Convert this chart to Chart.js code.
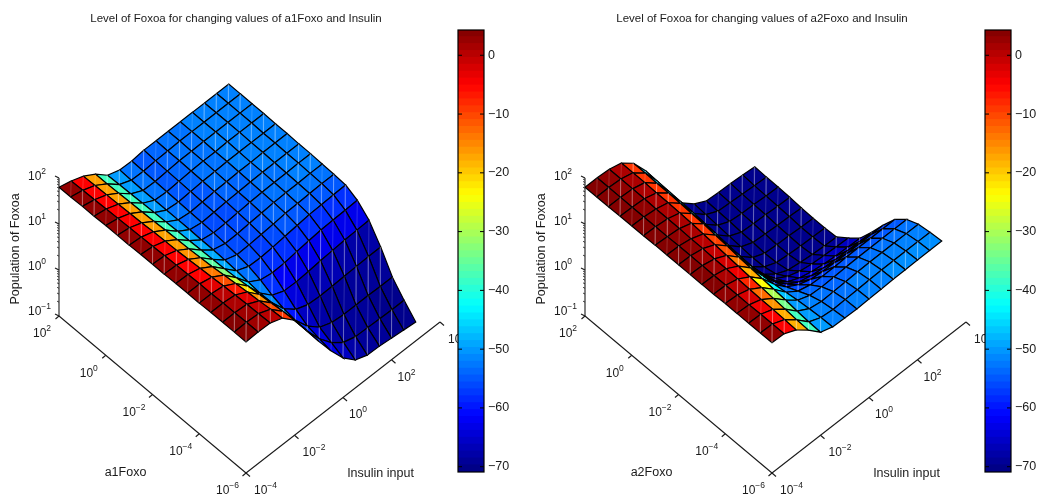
<!DOCTYPE html>
<html>
<head>
<meta charset="utf-8">
<title>Level of Foxoa</title>
<script src="https://cdn.jsdelivr.net/npm/chart.js@4/dist/chart.umd.min.js"></script>
<style>
    body { margin: 0; background: #fff; overflow: hidden; }
    canvas { position: absolute; top: 0; }
</style>
</head>
<body>
<canvas id="surface1" width="472" height="500" style="left:0"></canvas>
<canvas id="surface2" width="472" height="500" style="left:526px"></canvas>
<canvas id="bar1" width="70" height="500" style="left:452px"></canvas>
<canvas id="bar2" width="60" height="500" style="left:979px"></canvas>
<script>
// log10 of the grid values, rows go from the far edge to the near edge
const foxoExp = [2, 1.5, 1, 0.5, 0, -0.5, -1, -1.5, -2, -2.5, -3, -3.5, -4, -4.5, -5, -5.5, -6];
const insulinExp = [-4, -3.5, -3, -2.5, -2, -1.5, -1, -0.5, 0, 0.5, 1, 1.5, 2, 2.5, 3];

const foxoTicks = [-6, -4, -2, 0, 2];
const insulinTicks = [-4, -2, 0, 2, 4];
const heightTicks = [-1, 0, 1, 2];
const minorSteps = [0.301, 0.477, 0.602, 0.699, 0.778, 0.845, 0.903, 0.954];
const colorbarTicks = [-70, -60, -50, -40, -30, -20, -10, 0];
const colorRange = [-70.9, 4.3];

const a1Heights = [
    [1.80, 1.73, 1.63, 1.47, 1.24, 1.15, 1.14, 1.17, 1.17, 1.17, 1.17, 1.17, 1.17, 1.17, 1.17],
    [1.80, 1.74, 1.64, 1.47, 1.25, 1.14, 1.13, 1.15, 1.16, 1.17, 1.17, 1.17, 1.17, 1.17, 1.17],
    [1.81, 1.75, 1.65, 1.48, 1.26, 1.13, 1.12, 1.14, 1.16, 1.16, 1.17, 1.17, 1.17, 1.17, 1.17],
    [1.81, 1.76, 1.66, 1.49, 1.27, 1.13, 1.11, 1.13, 1.15, 1.16, 1.16, 1.17, 1.17, 1.17, 1.17],
    [1.82, 1.77, 1.67, 1.50, 1.28, 1.13, 1.10, 1.12, 1.14, 1.15, 1.16, 1.16, 1.16, 1.16, 1.16],
    [1.82, 1.78, 1.68, 1.51, 1.29, 1.13, 1.09, 1.11, 1.13, 1.14, 1.15, 1.15, 1.16, 1.16, 1.16],
    [1.82, 1.79, 1.70, 1.53, 1.30, 1.13, 1.08, 1.10, 1.12, 1.13, 1.14, 1.15, 1.15, 1.15, 1.15],
    [1.83, 1.80, 1.71, 1.54, 1.31, 1.12, 1.07, 1.08, 1.10, 1.12, 1.13, 1.14, 1.14, 1.15, 1.15],
    [1.83, 1.81, 1.72, 1.55, 1.32, 1.12, 1.05, 1.06, 1.08, 1.10, 1.12, 1.13, 1.13, 1.14, 1.14],
    [1.83, 1.82, 1.74, 1.57, 1.33, 1.11, 1.02, 1.03, 1.05, 1.07, 1.10, 1.11, 1.12, 1.13, 1.13],
    [1.84, 1.83, 1.76, 1.59, 1.34, 1.09, 0.98, 0.97, 0.99, 1.02, 1.05, 1.08, 1.09, 1.10, 1.11],
    [1.84, 1.84, 1.78, 1.62, 1.36, 1.06, 0.90, 0.85, 0.86, 0.90, 0.93, 0.96, 0.97, 0.98, 0.99],
    [1.84, 1.84, 1.80, 1.65, 1.39, 1.03, 0.78, 0.67, 0.66, 0.68, 0.71, 0.73, 0.75, 0.76, 0.77],
    [1.85, 1.85, 1.82, 1.68, 1.42, 1.04, 0.70, 0.48, 0.38, 0.36, 0.37, 0.38, 0.39, 0.40, 0.40],
    [1.85, 1.85, 1.83, 1.70, 1.45, 1.05, 0.66, 0.33, 0.10, 0.00, -0.03, -0.03, -0.03, -0.04, -0.04],
    [1.85, 1.86, 1.84, 1.73, 1.48, 1.07, 0.64, 0.27, -0.02, -0.22, -0.30, -0.31, -0.32, -0.33, -0.33],
    [1.85, 1.86, 1.85, 1.75, 1.50, 1.08, 0.63, 0.22, -0.14, -0.39, -0.49, -0.50, -0.53, -0.56, -0.59]
];

// one level per grid cell
const a1Levels = [
    [3, -5, -17, -38, -50, -53, -55, -54, -53, -53, -52, -52, -52, -52],
    [3, -5, -17, -38, -50, -53, -55, -54, -53, -53, -52, -52, -52, -52],
    [3, -5, -17, -38, -50, -53, -55, -54, -53, -53, -52, -52, -52, -52],
    [3, -5, -17, -38, -50, -53, -55, -54, -53, -53, -52, -52, -52, -52],
    [3, -5, -17, -38, -50, -53, -55, -55, -53, -53, -52, -52, -52, -52],
    [3, -5, -17, -38, -50, -54, -55, -55, -54, -54, -53, -52, -52, -52],
    [3, -5, -17, -38, -49, -55, -56, -56, -55, -54, -53, -53, -52, -52],
    [3, -5, -17, -37, -49, -55, -56, -56, -55, -54, -53, -53, -52, -52],
    [3, -5, -16, -37, -49, -55, -56, -56, -55, -54, -54, -53, -53, -53],
    [3, -5, -16, -36, -49, -54, -56, -57, -56, -55, -55, -55, -55, -55],
    [3, -5, -14, -33, -48, -53, -57, -58, -58, -58, -58, -58, -58, -58],
    [3, -3, -11, -28, -45, -52, -58, -62, -63, -63, -63, -63, -63, -63],
    [3, 0, -7, -22, -43, -51, -59, -64, -67, -67, -67, -68, -68, -68],
    [3, 1, -3, -16, -38, -50, -60, -66, -68, -69, -69, -69, -69, -69],
    [4, 2, -1, -11, -30, -48, -58, -64, -68, -69, -69, -69, -70, -70],
    [4, 2, 0, -9, -25, -48, -58, -63, -66, -68, -69, -69, -70, -70]
];

const a2Heights = [
    [1.80, 1.80, 1.78, 1.71, 1.50, 1.13, 0.66, 0.19, -0.18, -0.41, -0.55, -0.57, -0.58, -0.60, -0.63],
    [1.80, 1.80, 1.78, 1.71, 1.50, 1.12, 0.64, 0.17, -0.20, -0.43, -0.56, -0.58, -0.60, -0.62, -0.64],
    [1.80, 1.80, 1.78, 1.71, 1.49, 1.11, 0.62, 0.15, -0.22, -0.45, -0.57, -0.60, -0.61, -0.63, -0.64],
    [1.81, 1.80, 1.78, 1.70, 1.49, 1.10, 0.60, 0.13, -0.24, -0.47, -0.59, -0.61, -0.62, -0.64, -0.65],
    [1.81, 1.80, 1.77, 1.70, 1.48, 1.09, 0.58, 0.11, -0.26, -0.49, -0.60, -0.62, -0.64, -0.65, -0.67],
    [1.81, 1.80, 1.77, 1.69, 1.47, 1.07, 0.56, 0.09, -0.28, -0.51, -0.62, -0.64, -0.65, -0.67, -0.68],
    [1.82, 1.80, 1.77, 1.68, 1.46, 1.05, 0.55, 0.08, -0.29, -0.50, -0.61, -0.64, -0.66, -0.67, -0.68],
    [1.82, 1.81, 1.76, 1.66, 1.43, 1.02, 0.54, 0.09, -0.24, -0.44, -0.56, -0.60, -0.63, -0.65, -0.66],
    [1.82, 1.81, 1.76, 1.64, 1.41, 1.00, 0.56, 0.17, -0.12, -0.28, -0.37, -0.42, -0.44, -0.46, -0.47],
    [1.82, 1.81, 1.75, 1.62, 1.38, 0.98, 0.58, 0.25, 0.02, -0.10, -0.17, -0.21, -0.24, -0.25, -0.26],
    [1.82, 1.81, 1.75, 1.60, 1.36, 0.98, 0.64, 0.39, 0.23, 0.16, 0.12, 0.10, 0.09, 0.08, 0.08],
    [1.82, 1.81, 1.74, 1.58, 1.34, 1.01, 0.75, 0.59, 0.50, 0.47, 0.46, 0.45, 0.45, 0.45, 0.45],
    [1.83, 1.81, 1.73, 1.56, 1.32, 1.05, 0.87, 0.80, 0.78, 0.78, 0.79, 0.79, 0.79, 0.79, 0.79],
    [1.83, 1.81, 1.72, 1.54, 1.30, 1.09, 0.99, 0.97, 0.98, 0.99, 1.00, 1.00, 1.00, 1.00, 1.00],
    [1.83, 1.82, 1.72, 1.52, 1.27, 1.12, 1.07, 1.08, 1.09, 1.10, 1.11, 1.11, 1.11, 1.11, 1.11],
    [1.83, 1.82, 1.71, 1.50, 1.25, 1.14, 1.11, 1.12, 1.13, 1.14, 1.15, 1.15, 1.15, 1.15, 1.15],
    [1.83, 1.82, 1.70, 1.49, 1.24, 1.15, 1.14, 1.13, 1.14, 1.15, 1.16, 1.16, 1.17, 1.17, 1.17]
];

const a2Levels = [
    [4, 3, 1, -9, -45, -66, -70, -70, -70, -70, -70, -70, -70, -70],
    [4, 3, 1, -9, -45, -66, -70, -70, -70, -70, -70, -70, -70, -70],
    [4, 3, 1, -9, -45, -66, -70, -70, -70, -70, -70, -70, -70, -70],
    [4, 3, 1, -9, -45, -66, -70, -70, -70, -70, -70, -70, -70, -70],
    [4, 3, 1, -9, -45, -66, -70, -70, -70, -70, -70, -70, -70, -70],
    [4, 3, 1, -9, -45, -66, -70, -70, -70, -70, -70, -70, -70, -70],
    [4, 3, 1, -9, -45, -66, -70, -70, -70, -70, -70, -70, -70, -70],
    [4, 3, 0, -10, -42, -66, -69, -69, -69, -69, -69, -69, -69, -69],
    [4, 2, -1, -11, -40, -64, -67, -67, -67, -66, -66, -66, -66, -66],
    [4, 2, -2, -14, -40, -60, -64, -64, -64, -63, -63, -63, -63, -63],
    [4, 1, -4, -18, -42, -57, -60, -61, -61, -60, -60, -60, -60, -60],
    [3, 0, -8, -24, -43, -53, -56, -57, -57, -57, -57, -57, -57, -57],
    [3, -2, -13, -30, -47, -52, -54, -55, -55, -55, -55, -55, -55, -55],
    [3, -4, -16, -34, -50, -52, -53, -54, -54, -53, -53, -53, -53, -53],
    [3, -5, -18, -38, -50, -52, -53, -53, -52, -52, -52, -52, -52, -52],
    [3, -5, -18, -38, -50, -52, -53, -52, -52, -52, -51, -51, -51, -51]
];

const FONT = '"Liberation Sans", Arial, sans-serif';
const INK = '#1a1a1a';

// fixed view of the 3D box, in picture units
function project(foxo, insulin, height) {
    const f = (foxo + 6) / 8;
    const s = (insulin + 4) / 8;
    return {
        x: 246 - 187 * f + 194 * s,
        y: 473 - 157 * f - 151 * s - 46 * (height + 1)
    };
}

function jetColor(level) {
    const t = (level - colorRange[0]) / (colorRange[1] - colorRange[0]);
    const band = c => Math.round(255 * Math.max(0, Math.min(1, c)));
    const r = band(Math.min(4 * t - 1.5, 4.5 - 4 * t));
    const g = band(Math.min(4 * t - 0.5, 3.5 - 4 * t));
    const b = band(Math.min(4 * t + 0.5, 2.5 - 4 * t));
    return `rgb(${r},${g},${b})`;
}

function lineSet(points, width) {
    return {
        data: points,
        showLine: true,
        fill: false,
        borderColor: INK,
        borderWidth: width || 1.1,
        pointRadius: 0
    };
}

function buildSurface(heights, levels) {
    const cells = [];
    levels.forEach((row, k) => {
        row.forEach((level, n) => cells.push({ k, n, level }));
    });
    // nearest cells first, chart.js paints the first dataset last
    cells.sort((p, q) => (p.n - p.k) - (q.n - q.k));

    const corner = (k, n) => project(foxoExp[k], insulinExp[n], heights[k][n]);
    const sets = [];
    cells.forEach(({ k, n, level }) => {
        const left = corner(k, n);
        const top = corner(k, n + 1);
        const right = corner(k + 1, n + 1);
        const bottom = corner(k + 1, n);
        sets.push({
            data: [top, bottom],
            showLine: true,
            fill: false,
            borderColor: 'rgba(255,255,255,0.17)',
            borderWidth: 1,
            pointRadius: 0
        });
        sets.push({
            data: [left, top, right, bottom, left],
            showLine: true,
            fill: 'shape',
            backgroundColor: jetColor(level),
            borderColor: '#000',
            borderWidth: 1.2,
            pointRadius: 0
        });
    });
    return sets;
}

function buildAxes() {
    const sets = [];
    sets.push(lineSet([project(2, -4, -1), project(2, -4, 2)]));
    sets.push(lineSet([project(2, -4, -1), project(-6, -4, -1)]));
    sets.push(lineSet([project(-6, -4, -1), project(-6, 4, -1)]));

    foxoTicks.forEach(v => {
        const p = project(v, -4, -1);
        sets.push(lineSet([p, { x: p.x - 3.5, y: p.y + 3 }]));
    });
    insulinTicks.forEach(v => {
        const p = project(-6, v, -1);
        sets.push(lineSet([p, { x: p.x + 4, y: p.y + 3.5 }]));
    });
    heightTicks.forEach(v => {
        const p = project(2, -4, v);
        sets.push(lineSet([p, { x: p.x - 4, y: p.y - 2 }]));
        if (v < 2) {
            minorSteps.forEach(m => {
                const q = project(2, -4, v + m);
                sets.push(lineSet([q, { x: q.x - 2, y: q.y - 1 }], 0.8));
            });
        }
    });
    return sets;
}

function drawPower(ctx, exponent, x, y) {
    ctx.textAlign = 'left';
    ctx.textBaseline = 'middle';
    ctx.font = `12px ${FONT}`;
    ctx.fillText('10', x, y);
    const w = ctx.measureText('10').width;
    ctx.font = `8.5px ${FONT}`;
    ctx.fillText(String(exponent).replace('-', '\u2212'), x + w, y - 5);
}

function axisTextPlugin(foxoLabel) {
    return {
        id: 'axisText',
        afterDatasetsDraw(chart) {
            const { ctx, scales } = chart;
            const px = p => ({ x: scales.x.getPixelForValue(p.x), y: scales.y.getPixelForValue(p.y) });
            ctx.save();
            ctx.fillStyle = INK;

            heightTicks.forEach(v => drawPower(ctx, v, 28, 177 + 45 * (2 - v)));
            foxoTicks.forEach(v => {
                const p = px(project(v, -4, -1));
                drawPower(ctx, v, p.x - (v < 0 ? 30 : 26), p.y + 18);
            });
            insulinTicks.forEach(v => {
                const p = px(project(-6, v, -1));
                drawPower(ctx, v, p.x + (v === 0 || v === 2 ? 6 : 8), p.y + 17.5);
            });

            ctx.font = `12.5px ${FONT}`;
            ctx.textAlign = 'center';
            ctx.textBaseline = 'middle';
            ctx.fillText(foxoLabel, 125.5, 473);
            ctx.fillText('Insulin input', 380.5, 474);

            ctx.translate(15.5, 249);
            ctx.rotate(-Math.PI / 2);
            ctx.fillText('Population of Foxoa', 0, 0);
            ctx.restore();
        }
    };
}

function drawSurface(canvasId, heights, levels, title, foxoLabel) {
    new Chart(document.getElementById(canvasId), {
        type: 'scatter',
        data: { datasets: buildSurface(heights, levels).concat(buildAxes()) },
        options: {
            responsive: false,
            animation: false,
            events: [],
            layout: { padding: 0 },
            elements: { line: { tension: 0 } },
            plugins: {
                legend: { display: false },
                tooltip: { enabled: false },
                title: {
                    display: true,
                    text: title,
                    color: INK,
                    font: { family: FONT, size: 11.5, weight: 'normal', lineHeight: '14px' },
                    padding: { top: 12, bottom: 4 }
                }
            },
            scales: {
                x: { type: 'linear', display: false, min: 0, max: 472 },
                y: { type: 'linear', display: false, min: 30, max: 500, reverse: true }
            }
        },
        plugins: [axisTextPlugin(foxoLabel)]
    });
}

const colorbarFrame = {
    id: 'colorbarFrame',
    afterDatasetsDraw(chart) {
        const { ctx, chartArea: a, scales } = chart;
        ctx.save();
        ctx.strokeStyle = '#000';
        ctx.lineWidth = 1.2;
        ctx.strokeRect(a.left, a.top, a.right - a.left, a.bottom - a.top);
        ctx.lineWidth = 1;
        colorbarTicks.forEach(v => {
            const y = scales.y.getPixelForValue(v);
            ctx.beginPath();
            ctx.moveTo(a.left, y);
            ctx.lineTo(a.left + 4, y);
            ctx.moveTo(a.right, y);
            ctx.lineTo(a.right - 4, y);
            ctx.stroke();
        });
        ctx.restore();
    }
};

function drawColorbar(canvasId, axisWidth) {
    const count = 64;
    const step = (colorRange[1] - colorRange[0]) / count;
    const sets = [];
    for (let i = 0; i < count; i++) {
        const low = colorRange[0] + i * step;
        sets.push({
            data: [[low, low + step * 1.05]],
            backgroundColor: jetColor(low + step / 2),
            borderWidth: 0,
            grouped: false,
            barPercentage: 1,
            categoryPercentage: 1
        });
    }
    new Chart(document.getElementById(canvasId), {
        type: 'bar',
        data: { labels: ['level'], datasets: sets },
        options: {
            responsive: false,
            animation: false,
            events: [],
            layout: { padding: { left: 6, top: 30, bottom: 28 } },
            plugins: { legend: { display: false }, tooltip: { enabled: false } },
            scales: {
                x: { display: false },
                y: {
                    position: 'right',
                    min: colorRange[0],
                    max: colorRange[1],
                    afterBuildTicks: axis => { axis.ticks = colorbarTicks.map(value => ({ value })); },
                    afterFit: axis => { axis.width = axisWidth; },
                    border: { display: false },
                    grid: { display: false, drawTicks: false },
                    ticks: {
                        color: INK,
                        padding: 4,
                        font: { family: FONT, size: 12.5 },
                        callback: v => String(v).replace('-', '\u2212')
                    }
                }
            }
        },
        plugins: [colorbarFrame]
    });
}

drawSurface('surface1', a1Heights, a1Levels, 'Level of Foxoa for changing values of a1Foxo and Insulin', 'a1Foxo');
drawSurface('surface2', a2Heights, a2Levels, 'Level of Foxoa for changing values of a2Foxo and Insulin', 'a2Foxo');
drawColorbar('bar1', 38);
drawColorbar('bar2', 28);
</script>
</body>
</html>
